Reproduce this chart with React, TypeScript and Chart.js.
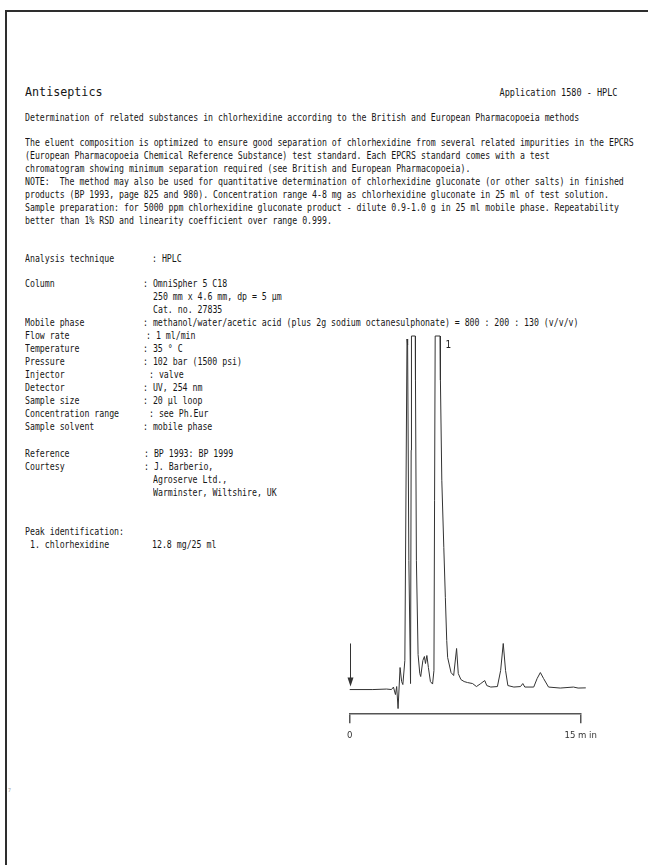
import React, { useEffect, useRef } from "react";
import { Chart, registerables } from "chart.js";

Chart.register(...registerables);

// ---------- chromatogram data (retention time in min, detector response) ----------
const RETENTION_TIMES = [
  0, 1.5, 2.4, 2.71, 2.84, 2.97, 3.05, 3.14, 3.27, 3.37, 3.45, 3.58, 3.72, 3.76, 3.84, 3.95,
  3.99, 4.01, 4.26, 4.27, 4.33, 4.44, 4.55, 4.61, 4.75, 4.85, 4.92, 5.01, 5.11, 5.24, 5.38,
  5.47, 5.51, 5.55, 5.87, 5.89, 5.98, 6.11, 6.21, 6.3, 6.36, 6.58, 6.75, 6.94, 7.05, 7.22,
  7.43, 7.65, 7.98, 8.23, 8.51, 8.77, 8.9, 9.16, 9.59, 9.8, 9.97, 10.12, 10.27, 10.66, 11.09,
  11.24, 11.37, 11.95, 12.17, 12.38, 12.59, 12.91, 13.67, 14.53, 14.83, 15.33,
];
const DETECTOR_SIGNAL = [
  0, 0, 0.5, 0, 2.5, -5, 3, -19, 22, 8, 5, 29, 350, 344, 129, 6,
  239, 353, 353, 309, 129, 35, 16, 13, 29, 33, 26, 34, 22, 8, 5.5,
  19, 189, 353, 353, 309, 209, 142, 92, 49, 32, 17, 14, 41, 16, 10,
  8, 7, 6, 3, 6, 9, 4, 2.5, 3, 19, 46, 19, 4, 2.5, 3,
  6, 2.5, 2.5, 11, 17, 11, 2.5, 1.5, 2.5, 1.5, 1.7,
];
const X_TICKS = [0, 15];
const X_TICK_LABELS = ["0", "15 m in"];
const Y_MIN = -23.7;
const Y_MAX = 353;
const INJECTION_TIME = 0;
const INJECTION_ARROW_FROM = 46;
const INJECTION_ARROW_TO = 3;
const PEAK_LABELS = ["1"];
const PEAK_LABEL_TIMES = [6.22];
const PEAK_LABEL_VALUES = [344];

// ---------- page text ----------
const TITLE = "Antiseptics";
const APPLICATION = "Application 1580 - HPLC";
const SUBTITLE =
  "Determination of related substances in chlorhexidine according to the British and European Pharmacopoeia methods";
const PARAGRAPH = [
  "The eluent composition is optimized to ensure good separation of chlorhexidine from several related impurities in the EPCRS",
  "(European Pharmacopoeia Chemical Reference Substance) test standard. Each EPCRS standard comes with a test",
  "chromatogram showing minimum separation required (see British and European Pharmacopoeia).",
  "NOTE:  The method may also be used for quantitative determination of chlorhexidine gluconate (or other salts) in finished",
  "products (BP 1993, page 825 and 980). Concentration range 4-8 mg as chlorhexidine gluconate in 25 ml of test solution.",
  "Sample preparation: for 5000 ppm chlorhexidine gluconate product - dilute 0.9-1.0 g in 25 ml mobile phase. Repeatability",
  "better than 1% RSD and linearity coefficient over range 0.999.",
];
// [label, value, y, colon x]
const PARAMS: [string, string, number, number][] = [
  ["Analysis technique", ": HPLC", 258, 152],
  ["Column", ": OmniSpher 5 C18", 283, 143],
  ["", "250 mm x 4.6 mm, dp = 5 \u00b5m", 296, 153],
  ["", "Cat. no. 27835", 309, 153],
  ["Mobile phase", ": methanol/water/acetic acid (plus 2g sodium octanesulphonate) = 800 : 200 : 130 (v/v/v)", 322, 143],
  ["Flow rate", ": 1 ml/min", 335, 146],
  ["Temperature", ": 35 \u00b0 C", 348, 143],
  ["Pressure", ": 102 bar (1500 psi)", 361, 143],
  ["Injector", ": valve", 374, 149],
  ["Detector", ": UV, 254 nm", 387, 143],
  ["Sample size", ": 20 \u00b5l loop", 400, 143],
  ["Concentration range", ": see Ph.Eur", 413, 149],
  ["Sample solvent", ": mobile phase", 426, 143],
  ["Reference", ": BP 1993: BP 1999", 453, 144],
  ["Courtesy", ": J. Barberio,", 466, 144],
  ["", "Agroserve Ltd.,", 479, 153],
  ["", "Warminster, Wiltshire, UK", 492, 153],
  ["Peak identification:", "", 531, 0],
  [" 1. chlorhexidine", "12.8 mg/25 ml", 544, 152],
];

const FONT = '"DejaVu Sans Mono", "Liberation Mono", monospace';
const BODY_SCALE = 0.822;
const textBase: React.CSSProperties = {
  position: "absolute",
  fontFamily: FONT,
  fontSize: "10px",
  lineHeight: "13px",
  whiteSpace: "pre",
  color: "#161616",
  transform: `scaleX(${BODY_SCALE})`,
  transformOrigin: "0 50%",
};
const LEFT = 25;

const annotationPlugin = {
  id: "chromAnnotations",
  afterDatasetsDraw(chart: any) {
    const { ctx } = chart;
    const xs = chart.scales.x;
    const ys = chart.scales.y;
    ctx.save();
    // injection arrow
    const ax = Math.round(xs.getPixelForValue(INJECTION_TIME)) + 0.5;
    const yTop = ys.getPixelForValue(INJECTION_ARROW_FROM);
    const yTip = ys.getPixelForValue(INJECTION_ARROW_TO);
    ctx.strokeStyle = "#333";
    ctx.fillStyle = "#333";
    ctx.lineWidth = 1;
    ctx.beginPath();
    ctx.moveTo(ax, yTop);
    ctx.lineTo(ax, yTip - 6);
    ctx.stroke();
    ctx.beginPath();
    ctx.moveTo(ax - 3, yTip - 9);
    ctx.lineTo(ax + 3, yTip - 9);
    ctx.lineTo(ax, yTip);
    ctx.closePath();
    ctx.fill();
    // peak labels
    ctx.font = '10px "DejaVu Sans Condensed", "Liberation Sans", sans-serif';
    ctx.textAlign = "left";
    ctx.textBaseline = "middle";
    ctx.fillStyle = "#222";
    PEAK_LABELS.forEach((lbl, i) => {
      ctx.fillText(lbl, xs.getPixelForValue(PEAK_LABEL_TIMES[i]), ys.getPixelForValue(PEAK_LABEL_VALUES[i]));
    });
    ctx.restore();
  },
};

function Chromatogram() {
  const ref = useRef<HTMLCanvasElement | null>(null);
  useEffect(() => {
    if (!ref.current) return;
    const chart = new Chart(ref.current, {
      type: "line",
      data: {
        datasets: [
          {
            data: RETENTION_TIMES.map((t, i) => ({ x: t, y: DETECTOR_SIGNAL[i] })),
            borderColor: "#333",
            borderWidth: 1,
            pointRadius: 0,
            tension: 0,
            fill: false,
            clip: false as any,
          },
        ],
      },
      options: {
        animation: false,
        responsive: false,
        devicePixelRatio: 1,
        layout: { padding: { left: 8, top: 10, right: 49.3, bottom: 7.3 } },
        plugins: { legend: { display: false }, tooltip: { enabled: false } },
        scales: {
          x: {
            type: "linear",
            min: 0,
            max: 15,
            afterBuildTicks: (s: any) => {
              s.ticks = X_TICKS.map((v) => ({ value: v }));
            },
            ticks: {
              autoSkip: false,
              maxRotation: 0,
              padding: 7,
              color: "#333",
              font: { family: '"DejaVu Sans Condensed", "Liberation Sans", sans-serif', size: 9.5 },
              callback: (_v: any, i: number) => X_TICK_LABELS[i],
            },
            grid: { drawOnChartArea: false, drawTicks: true, tickLength: 10, color: "#555", lineWidth: 1.5 },
            border: { display: true, color: "#555", width: 1.5 },
          },
          y: { display: false, min: Y_MIN, max: Y_MAX },
        },
      },
      plugins: [annotationPlugin],
    });
    return () => chart.destroy();
  }, []);
  return (
    <canvas
      ref={ref}
      width={290}
      height={430}
      style={{ position: "absolute", left: 340, top: 326, width: 290, height: 430 }}
    />
  );
}

export default function App() {
  return (
    <div
      style={{
        position: "absolute",
        left: 0,
        top: 0,
        width: 648,
        height: 865,
        background: "#fff",
        overflow: "hidden",
      }}
    >
      {/* page frame */}
      <div style={{ position: "absolute", left: 5, top: 10, width: 643, height: 2, background: "#2e2e2e" }} />
      <div style={{ position: "absolute", left: 5, top: 10, width: 2, height: 855, background: "#2e2e2e" }} />

      <div style={{ ...textBase, left: LEFT, top: 85, fontSize: "13px", lineHeight: "14px", transform: "scaleX(0.9)" }}>
        {TITLE}
      </div>
      <div style={{ ...textBase, right: 31, top: 85.5, transform: "scaleX(0.852)", transformOrigin: "100% 50%" }}>
        {APPLICATION}
      </div>
      <div style={{ ...textBase, left: LEFT, top: 110.5 }}>{SUBTITLE}</div>
      {PARAGRAPH.map((line, i) => (
        <div key={i} style={{ ...textBase, left: LEFT, top: 135.5 + 13 * i }}>
          {line}
        </div>
      ))}
      {PARAMS.map(([label, value, y, cx], i) => (
        <React.Fragment key={i}>
          {label && <div style={{ ...textBase, left: LEFT, top: y - 6.5 }}>{label}</div>}
          {value && <div style={{ ...textBase, left: cx, top: y - 6.5 }}>{value}</div>}
        </React.Fragment>
      ))}
      <div style={{ ...textBase, left: 8, top: 784, fontSize: "5px", color: "#999", transform: "none" }}>7</div>
      <Chromatogram />
    </div>
  );
}
